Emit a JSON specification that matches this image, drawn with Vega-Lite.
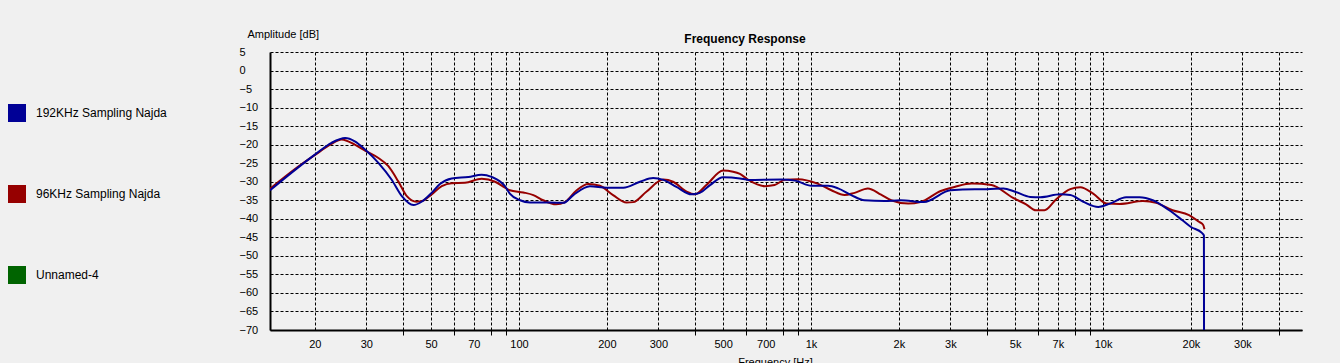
{
  "$schema": "https://vega.github.io/schema/vega-lite/v6.json",
  "width": 1032,
  "height": 278,
  "autosize": {"type": "none"},
  "padding": {"left": 270, "top": 52, "right": 38, "bottom": 33},
  "background": "#f0f0f0",
  "title": {
    "text": "Frequency Response",
    "anchor": "middle",
    "dx": -41,
    "offset": -27,
    "baseline": "alphabetic",
    "font": "Liberation Sans",
    "fontSize": 12,
    "fontWeight": "bold",
    "color": "black"
  },
  "data": {
    "values": [
      {"s": "96KHz Sampling Najda", "f": 14.05, "db": -31.9},
      {"s": "96KHz Sampling Najda", "f": 17.5, "db": -26.0},
      {"s": "96KHz Sampling Najda", "f": 20, "db": -22.8},
      {"s": "96KHz Sampling Najda", "f": 22.8, "db": -19.8},
      {"s": "96KHz Sampling Najda", "f": 24.7, "db": -18.6},
      {"s": "96KHz Sampling Najda", "f": 27.4, "db": -20.0},
      {"s": "96KHz Sampling Najda", "f": 29.7, "db": -21.6},
      {"s": "96KHz Sampling Najda", "f": 33, "db": -23.6},
      {"s": "96KHz Sampling Najda", "f": 35.7, "db": -25.8},
      {"s": "96KHz Sampling Najda", "f": 38.6, "db": -29.9},
      {"s": "96KHz Sampling Najda", "f": 41.3, "db": -33.9},
      {"s": "96KHz Sampling Najda", "f": 44.6, "db": -35.4},
      {"s": "96KHz Sampling Najda", "f": 47, "db": -35.1},
      {"s": "96KHz Sampling Najda", "f": 50.2, "db": -33.4},
      {"s": "96KHz Sampling Najda", "f": 54.4, "db": -31.2},
      {"s": "96KHz Sampling Najda", "f": 58.8, "db": -30.4},
      {"s": "96KHz Sampling Najda", "f": 65.3, "db": -30.3},
      {"s": "96KHz Sampling Najda", "f": 74.5, "db": -29.2},
      {"s": "96KHz Sampling Najda", "f": 82.8, "db": -30.0},
      {"s": "96KHz Sampling Najda", "f": 89.5, "db": -31.6},
      {"s": "96KHz Sampling Najda", "f": 93, "db": -32.3},
      {"s": "96KHz Sampling Najda", "f": 103.5, "db": -32.9},
      {"s": "96KHz Sampling Najda", "f": 112, "db": -33.6},
      {"s": "96KHz Sampling Najda", "f": 121, "db": -35.0},
      {"s": "96KHz Sampling Najda", "f": 134, "db": -36.1},
      {"s": "96KHz Sampling Najda", "f": 143.7, "db": -35.5},
      {"s": "96KHz Sampling Najda", "f": 157.6, "db": -32.3},
      {"s": "96KHz Sampling Najda", "f": 172.7, "db": -30.6},
      {"s": "96KHz Sampling Najda", "f": 189.3, "db": -31.1},
      {"s": "96KHz Sampling Najda", "f": 210, "db": -33.6},
      {"s": "96KHz Sampling Najda", "f": 233.5, "db": -35.6},
      {"s": "96KHz Sampling Najda", "f": 246, "db": -35.5},
      {"s": "96KHz Sampling Najda", "f": 273, "db": -32.7},
      {"s": "96KHz Sampling Najda", "f": 312, "db": -29.4},
      {"s": "96KHz Sampling Najda", "f": 337, "db": -30.0},
      {"s": "96KHz Sampling Najda", "f": 375, "db": -32.7},
      {"s": "96KHz Sampling Najda", "f": 400, "db": -33.4},
      {"s": "96KHz Sampling Najda", "f": 438, "db": -30.9},
      {"s": "96KHz Sampling Najda", "f": 500, "db": -27.0},
      {"s": "96KHz Sampling Najda", "f": 541, "db": -27.3},
      {"s": "96KHz Sampling Najda", "f": 571, "db": -27.9},
      {"s": "96KHz Sampling Najda", "f": 610, "db": -29.5},
      {"s": "96KHz Sampling Najda", "f": 695, "db": -31.2},
      {"s": "96KHz Sampling Najda", "f": 750, "db": -30.9},
      {"s": "96KHz Sampling Najda", "f": 812, "db": -29.5},
      {"s": "96KHz Sampling Najda", "f": 902, "db": -29.3},
      {"s": "96KHz Sampling Najda", "f": 1053, "db": -30.5},
      {"s": "96KHz Sampling Najda", "f": 1174, "db": -32.3},
      {"s": "96KHz Sampling Najda", "f": 1303, "db": -33.6},
      {"s": "96KHz Sampling Najda", "f": 1410, "db": -33.0},
      {"s": "96KHz Sampling Najda", "f": 1565, "db": -31.8},
      {"s": "96KHz Sampling Najda", "f": 1737, "db": -33.5},
      {"s": "96KHz Sampling Najda", "f": 1880, "db": -35.0},
      {"s": "96KHz Sampling Najda", "f": 2152, "db": -35.9},
      {"s": "96KHz Sampling Najda", "f": 2370, "db": -35.5},
      {"s": "96KHz Sampling Najda", "f": 2780, "db": -32.5},
      {"s": "96KHz Sampling Najda", "f": 3100, "db": -31.4},
      {"s": "96KHz Sampling Najda", "f": 3550, "db": -30.5},
      {"s": "96KHz Sampling Najda", "f": 4150, "db": -30.9},
      {"s": "96KHz Sampling Najda", "f": 4900, "db": -34.3},
      {"s": "96KHz Sampling Najda", "f": 5450, "db": -36.1},
      {"s": "96KHz Sampling Najda", "f": 5890, "db": -37.7},
      {"s": "96KHz Sampling Najda", "f": 6300, "db": -37.7},
      {"s": "96KHz Sampling Najda", "f": 6900, "db": -34.8},
      {"s": "96KHz Sampling Najda", "f": 7720, "db": -32.0},
      {"s": "96KHz Sampling Najda", "f": 8350, "db": -31.5},
      {"s": "96KHz Sampling Najda", "f": 9250, "db": -33.2},
      {"s": "96KHz Sampling Najda", "f": 10270, "db": -35.9},
      {"s": "96KHz Sampling Najda", "f": 11400, "db": -36.0},
      {"s": "96KHz Sampling Najda", "f": 13700, "db": -35.2},
      {"s": "96KHz Sampling Najda", "f": 15200, "db": -35.7},
      {"s": "96KHz Sampling Najda", "f": 17300, "db": -37.7},
      {"s": "96KHz Sampling Najda", "f": 19700, "db": -39.0},
      {"s": "96KHz Sampling Najda", "f": 21300, "db": -40.8},
      {"s": "96KHz Sampling Najda", "f": 22000, "db": -41.6},
      {"s": "96KHz Sampling Najda", "f": 22250, "db": -42.8},
      {"s": "192KHz Sampling Najda", "f": 14.05, "db": -32.3},
      {"s": "192KHz Sampling Najda", "f": 17.5, "db": -26.2},
      {"s": "192KHz Sampling Najda", "f": 20, "db": -22.7},
      {"s": "192KHz Sampling Najda", "f": 22.8, "db": -19.5},
      {"s": "192KHz Sampling Najda", "f": 25.4, "db": -18.2},
      {"s": "192KHz Sampling Najda", "f": 27.4, "db": -19.1},
      {"s": "192KHz Sampling Najda", "f": 29.7, "db": -21.3},
      {"s": "192KHz Sampling Najda", "f": 33, "db": -24.9},
      {"s": "192KHz Sampling Najda", "f": 36.6, "db": -29.4},
      {"s": "192KHz Sampling Najda", "f": 39.7, "db": -33.9},
      {"s": "192KHz Sampling Najda", "f": 43.5, "db": -36.3},
      {"s": "192KHz Sampling Najda", "f": 46.4, "db": -35.4},
      {"s": "192KHz Sampling Najda", "f": 50.2, "db": -33.0},
      {"s": "192KHz Sampling Najda", "f": 53.6, "db": -30.6},
      {"s": "192KHz Sampling Najda", "f": 58.8, "db": -29.1},
      {"s": "192KHz Sampling Najda", "f": 67.1, "db": -28.7},
      {"s": "192KHz Sampling Najda", "f": 74.5, "db": -28.1},
      {"s": "192KHz Sampling Najda", "f": 80.6, "db": -28.7},
      {"s": "192KHz Sampling Najda", "f": 89.5, "db": -31.2},
      {"s": "192KHz Sampling Najda", "f": 93, "db": -33.2},
      {"s": "192KHz Sampling Najda", "f": 100.8, "db": -35.0},
      {"s": "192KHz Sampling Najda", "f": 109, "db": -35.6},
      {"s": "192KHz Sampling Najda", "f": 127.7, "db": -35.6},
      {"s": "192KHz Sampling Najda", "f": 142, "db": -35.7},
      {"s": "192KHz Sampling Najda", "f": 153.5, "db": -33.6},
      {"s": "192KHz Sampling Najda", "f": 175, "db": -31.2},
      {"s": "192KHz Sampling Najda", "f": 199.6, "db": -31.6},
      {"s": "192KHz Sampling Najda", "f": 227.6, "db": -31.6},
      {"s": "192KHz Sampling Najda", "f": 259.6, "db": -30.0},
      {"s": "192KHz Sampling Najda", "f": 288, "db": -29.0},
      {"s": "192KHz Sampling Najda", "f": 312, "db": -29.5},
      {"s": "192KHz Sampling Najda", "f": 346, "db": -31.4},
      {"s": "192KHz Sampling Najda", "f": 390, "db": -33.4},
      {"s": "192KHz Sampling Najda", "f": 416, "db": -33.0},
      {"s": "192KHz Sampling Najda", "f": 451, "db": -30.9},
      {"s": "192KHz Sampling Najda", "f": 500, "db": -28.8},
      {"s": "192KHz Sampling Najda", "f": 571, "db": -29.1},
      {"s": "192KHz Sampling Najda", "f": 610, "db": -29.5},
      {"s": "192KHz Sampling Najda", "f": 793, "db": -29.4},
      {"s": "192KHz Sampling Najda", "f": 882, "db": -29.7},
      {"s": "192KHz Sampling Najda", "f": 1005, "db": -31.1},
      {"s": "192KHz Sampling Najda", "f": 1144, "db": -31.1},
      {"s": "192KHz Sampling Najda", "f": 1238, "db": -31.8},
      {"s": "192KHz Sampling Najda", "f": 1373, "db": -33.6},
      {"s": "192KHz Sampling Najda", "f": 1524, "db": -35.0},
      {"s": "192KHz Sampling Najda", "f": 1783, "db": -35.2},
      {"s": "192KHz Sampling Najda", "f": 2028, "db": -35.0},
      {"s": "192KHz Sampling Najda", "f": 2435, "db": -35.5},
      {"s": "192KHz Sampling Najda", "f": 3000, "db": -32.3},
      {"s": "192KHz Sampling Najda", "f": 3640, "db": -32.0},
      {"s": "192KHz Sampling Najda", "f": 4000, "db": -32.0},
      {"s": "192KHz Sampling Najda", "f": 4560, "db": -31.8},
      {"s": "192KHz Sampling Najda", "f": 5000, "db": -32.7},
      {"s": "192KHz Sampling Najda", "f": 5630, "db": -34.1},
      {"s": "192KHz Sampling Najda", "f": 6100, "db": -34.2},
      {"s": "192KHz Sampling Najda", "f": 7130, "db": -33.4},
      {"s": "192KHz Sampling Najda", "f": 7720, "db": -33.6},
      {"s": "192KHz Sampling Najda", "f": 8560, "db": -35.4},
      {"s": "192KHz Sampling Najda", "f": 9630, "db": -36.8},
      {"s": "192KHz Sampling Najda", "f": 10550, "db": -35.9},
      {"s": "192KHz Sampling Najda", "f": 12000, "db": -34.2},
      {"s": "192KHz Sampling Najda", "f": 13330, "db": -34.2},
      {"s": "192KHz Sampling Najda", "f": 14800, "db": -35.0},
      {"s": "192KHz Sampling Najda", "f": 16850, "db": -37.7},
      {"s": "192KHz Sampling Najda", "f": 18700, "db": -40.4},
      {"s": "192KHz Sampling Najda", "f": 20000, "db": -42.2},
      {"s": "192KHz Sampling Najda", "f": 21800, "db": -43.8},
      {"s": "192KHz Sampling Najda", "f": 22150, "db": -44.5},
      {"s": "192KHz Sampling Najda", "f": 22170, "db": -70}
    ]
  },
  "mark": {"type": "line", "interpolate": "monotone", "strokeWidth": 2, "clip": true},
  "encoding": {
    "x": {
      "field": "f",
      "type": "quantitative",
      "scale": {"type": "log", "domain": [14.04, 48000], "nice": false},
      "axis": {
        "values": [20, 30, 40, 50, 60, 70, 80, 90, 100, 200, 300, 400, 500, 600, 700, 800, 900, 1000, 2000, 3000, 4000, 5000, 6000, 7000, 8000, 9000, 10000, 20000, 30000, 40000],
        "labelExpr": "indexof([20,30,50,70,100,200,300,500,700,1000,2000,3000,5000,7000,10000,20000,30000], datum.value) >= 0 ? (datum.value >= 1000 ? (datum.value / 1000) + 'k' : datum.value + '') : ''",
        "grid": true,
        "ticks": true,
        "tickSize": 5,
        "tickColor": "black",
        "tickWidth": 1,
        "tickOpacity": {"condition": {"test": "indexof([20,30,50,70,100,200,300,500,700,1000,2000,3000,5000,7000,10000,20000,30000], datum.value) >= 0", "value": 0}, "value": 1},
        "labelPadding": 3,
        "title": "Frequency [Hz]",
        "titleX": 505,
        "titleY": 26,
        "titleAlign": "center",
        "titleBaseline": "top"
      }
    },
    "y": {
      "field": "db",
      "type": "quantitative",
      "scale": {"domain": [-70, 5], "nice": false, "zero": false},
      "axis": {
        "values": [-70, -65, -60, -55, -50, -45, -40, -35, -30, -25, -20, -15, -10, -5, 0, 5],
        "grid": true,
        "ticks": false,
        "tickSize": 0,
        "labelAlign": "left",
        "labelBaseline": "middle",
        "labelPadding": 31,
        "title": "Amplitude [dB]",
        "titleAngle": 0,
        "titleX": -23,
        "titleY": -18,
        "titleAlign": "left",
        "titleBaseline": "middle"
      }
    },
    "color": {
      "field": "s",
      "type": "nominal",
      "scale": {
        "domain": ["192KHz Sampling Najda", "96KHz Sampling Najda", "Unnamed-4"],
        "range": ["#000096", "#960000", "#006400"]
      },
      "legend": {
        "orient": "none",
        "legendX": -262,
        "legendY": 52,
        "title": null,
        "symbolType": "square",
        "symbolSize": 81,
        "symbolStrokeWidth": 9,
        "symbolOpacity": 1,
        "labelFont": "Liberation Sans",
        "labelFontSize": 12,
        "labelColor": "black",
        "labelOffset": 10,
        "labelLimit": 220,
        "rowPadding": 35
      }
    }
  },
  "config": {
    "view": {"stroke": null},
    "axis": {
      "gridColor": "black",
      "gridDash": [3, 2],
      "gridWidth": 1,
      "gridOpacity": 1,
      "domainColor": "black",
      "domainWidth": 2,
      "labelFont": "Liberation Sans",
      "labelFontSize": 11,
      "labelColor": "black",
      "labelFlush": false,
      "labelOverlap": false,
      "labelBound": false,
      "titleFont": "Liberation Sans",
      "titleFontSize": 11,
      "titleFontWeight": "normal",
      "titleColor": "black"
    }
  }
}
